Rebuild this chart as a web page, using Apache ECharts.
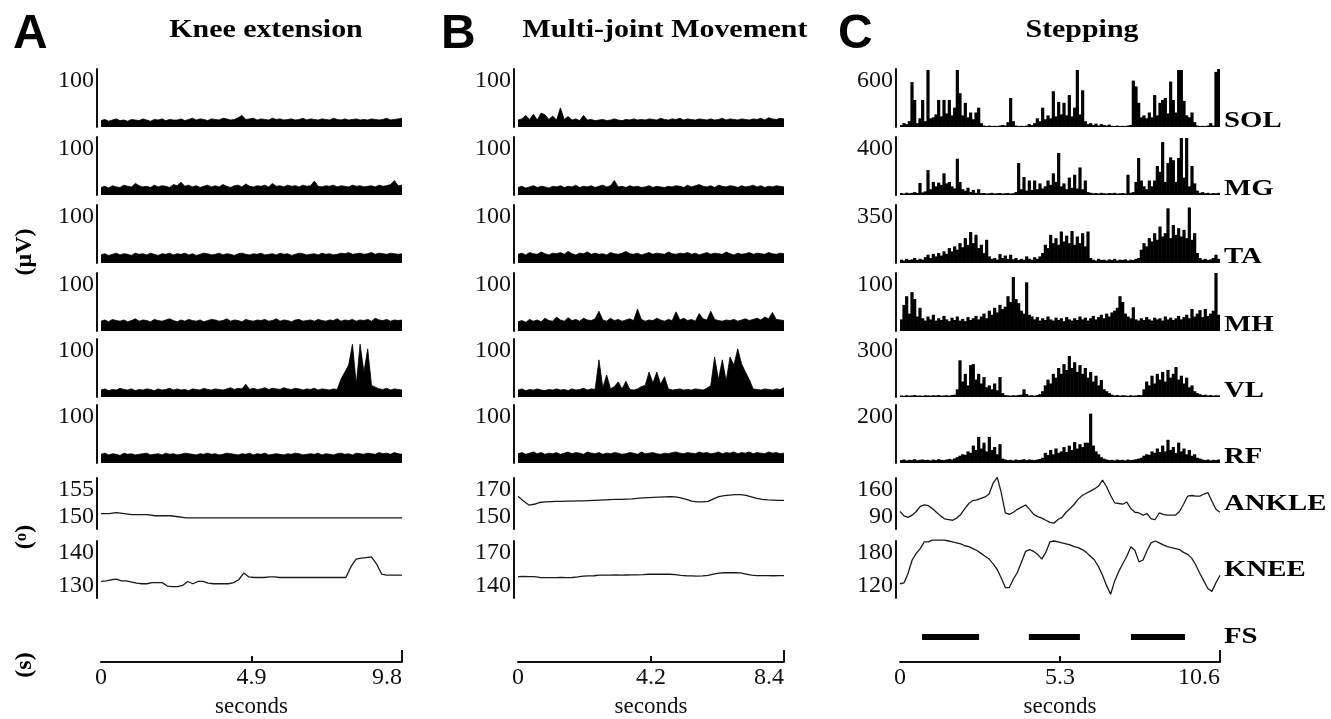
<!DOCTYPE html>
<html><head><meta charset="utf-8">
<script src="https://cdn.jsdelivr.net/npm/echarts@6/dist/echarts.min.js"></script>
<style>html,body{margin:0;padding:0;background:#fff}#c{width:1331px;height:719px}</style>
</head><body><div id="c"></div>
<script>
// ---------- labels / ticks ----------
const titles = ['Knee extension','Multi-joint Movement','Stepping'];
const panelLetters = ['A','B','C'];
const rowNames = ['SOL','MG','TA','MH','VL','RF','ANKLE','KNEE'];
const fsName = 'FS';
const kneeTopTicks = [100,100,100,100,100,100,155,140];
const kneeBottomTicks = [0,0,0,0,0,0,150,130];
const multiTopTicks = [100,100,100,100,100,100,170,170];
const multiBottomTicks = [0,0,0,0,0,0,150,140];
const stepTopTicks = [600,400,350,100,300,200,160,180];
const stepBottomTicks = [0,0,0,0,0,0,90,120];
const kneeTimeTicks = [0,4.9,9.8];
const multiTimeTicks = [0,4.2,8.4];
const stepTimeTicks = [0,5.3,10.6];
const fsBouts = [[0.73,2.62],[4.27,5.96],[7.65,9.44]];

// ---------- A: knee extension (EMG, µV) ----------
const kneeSOL = [11,13,10,12,14,11,12,10,13,12,11,14,12,10,13,12,14,11,13,12,12,14,11,13,15,12,14,13,11,14,13,12,15,14,12,13,16,20,13,14,15,12,14,13,12,15,13,14,12,13,14,12,13,15,12,14,13,12,14,13,12,15,13,12,14,12,13,14,12,13,12,14,13,12,13,15,12,13,14,15];
const kneeMG = [13,15,12,16,14,13,17,15,14,20,16,14,15,13,17,14,16,15,13,18,16,22,15,17,14,16,13,15,17,14,16,14,18,15,13,16,17,14,19,15,14,16,15,17,14,20,15,16,14,17,15,16,14,17,15,16,24,15,14,16,15,17,14,16,15,14,17,15,16,14,15,16,14,17,15,16,18,25,16,17];
const kneeTA = [14,16,13,15,17,14,16,15,13,17,15,16,14,17,15,13,16,15,17,14,16,15,17,14,16,13,15,17,16,14,15,17,14,16,15,13,16,17,15,14,16,15,17,14,15,16,14,17,15,16,13,15,17,16,14,15,16,14,17,15,16,14,15,17,16,18,15,16,17,15,16,18,15,17,16,15,17,16,15,16];
const kneeMH = [17,19,16,20,18,17,19,16,18,21,17,19,18,16,20,18,17,19,21,18,16,19,17,20,18,17,19,16,18,20,19,17,18,21,17,19,18,16,20,18,17,19,18,20,17,18,21,17,19,18,16,19,20,17,18,19,17,20,18,17,19,18,21,17,19,18,20,17,19,18,20,17,22,19,18,20,17,19,18,19];
const kneeVL = [12,14,11,13,12,15,13,12,14,11,13,12,14,13,11,14,12,13,15,12,14,12,13,11,14,13,12,15,13,12,14,13,12,14,16,13,15,14,22,13,15,13,14,16,13,15,14,13,16,14,13,15,14,12,14,13,15,12,14,13,12,14,13,31,43,55,91,22,91,43,83,20,17,14,13,15,12,14,13,12];
const kneeRF = [15,17,14,16,15,13,17,15,16,14,15,16,17,14,15,16,14,17,15,16,14,15,17,16,15,14,16,15,17,15,16,14,15,17,16,15,14,16,15,17,14,16,15,17,14,15,16,15,14,16,15,17,16,14,15,16,15,17,14,16,15,14,16,17,15,16,14,17,16,15,17,16,15,18,16,17,15,18,16,15];
// joint angles (deg)
const kneeANKLE = [151.5,151.5,151.6,151.5,151.4,151.4,151.4,151.3,151.3,151.3,151.2,151.1,151.1,151.1,151.1,151.1,151.1,151.1,151.1,151.1,151.1,151.1,151.1,151.1,151.1,151.1,151.1,151.1,151.1,151.1,151.1,151.1,151.1,151.1,151.1,151.1,151.1,151.1,151.1,151.1];
const kneeKNEE = [132.9,133.0,133.2,133.3,133.0,133.0,132.8,132.6,132.5,132.5,132.7,132.7,132.7,132.1,132.0,132.0,132.2,132.9,132.5,132.9,132.9,132.6,132.5,132.5,132.5,132.5,132.7,133.2,134.4,133.7,133.6,133.6,133.6,133.7,133.7,133.6,133.6,133.6,133.6,133.6,133.6,133.6,133.6,133.6,133.6,133.6,133.6,133.6,133.6,135.5,136.8,137.0,137.1,137.2,136.0,134.2,134.0,134.0,134.0,134.0];

// ---------- B: multi-joint movement ----------
const multiSOL = [12,14,20,13,22,12,24,21,13,19,12,33,13,18,12,14,11,20,12,13,11,12,13,11,12,14,12,11,13,12,14,12,13,12,14,13,12,15,13,12,14,13,15,12,14,13,12,14,13,12,14,12,13,15,12,14,13,12,14,13,12,14,13,15,12,16,14,13,15,14];
const multiMG = [13,15,12,14,16,13,15,14,12,15,14,16,13,15,14,17,13,15,14,16,13,15,17,14,16,25,14,15,13,16,14,15,13,14,16,13,15,14,13,15,14,16,15,13,17,14,16,18,15,14,16,13,17,15,14,16,15,13,16,14,15,17,14,16,13,15,14,16,15,14];
const multiTA = [15,17,14,18,16,15,19,16,14,17,16,18,15,20,16,14,17,16,19,15,17,15,16,14,18,16,15,17,20,16,15,17,14,16,18,15,17,16,15,19,16,15,17,16,18,15,17,14,16,18,15,17,16,15,19,16,14,17,15,16,18,15,17,16,15,18,16,15,17,16];
const multiMH = [16,18,15,20,17,19,16,22,18,17,24,19,17,23,18,20,17,22,19,18,21,34,19,17,22,18,20,17,19,21,18,38,20,17,19,18,22,19,17,20,18,33,19,22,18,20,17,30,21,19,34,20,18,17,19,18,20,17,19,21,18,20,22,19,24,21,32,20,19,18];
const multiVL = [12,14,11,13,12,14,12,11,13,12,14,12,13,11,14,12,13,15,12,14,13,64,16,38,14,18,26,14,27,13,12,14,18,20,43,24,43,22,35,14,12,13,14,12,13,12,14,13,12,15,20,69,30,64,28,69,55,83,57,43,30,14,13,12,14,13,12,14,13,16];
const multiRF = [16,18,15,17,19,16,18,15,17,16,18,15,17,19,16,18,17,15,19,17,16,18,15,17,16,18,17,15,16,18,17,15,19,16,17,18,16,15,17,16,18,19,17,16,18,17,16,19,17,18,16,17,19,16,18,17,19,16,18,17,19,16,18,17,16,19,17,18,16,17];
const multiANKLE = [162.8,161.0,159.4,159.7,160.4,160.6,160.7,160.8,160.8,160.9,160.9,161.0,161.0,161.1,161.2,161.3,161.4,161.5,161.6,161.6,161.7,161.8,162.0,162.2,162.3,162.4,162.5,162.6,162.7,162.6,162.2,161.6,160.9,160.6,160.6,160.8,161.8,162.7,163.1,163.3,163.5,163.5,163.2,162.6,162.0,161.6,161.4,161.3,161.2,161.2];
const multiKNEE = [151.3,151.4,151.2,151.3,150.8,150.7,150.7,150.7,150.8,150.7,150.8,151.1,151.5,151.6,151.7,152.0,152.0,152.0,152.1,152.0,152.1,152.2,152.2,152.3,152.5,152.5,152.6,152.5,152.5,152.3,151.9,151.7,151.6,151.5,151.6,151.9,152.6,153.1,153.3,153.4,153.3,153.2,152.6,152.0,151.8,151.8,151.8,151.7,151.8,151.8];

// ---------- C: stepping ----------
const stepSOL = [20,40,30,60,465,280,40,90,280,60,590,90,100,130,280,110,280,140,280,120,200,590,350,120,250,100,150,80,150,200,40,15,10,15,10,12,10,15,20,15,50,300,60,15,10,12,10,15,30,20,40,90,60,200,80,120,90,370,110,260,130,250,120,330,110,200,590,130,380,60,30,40,20,35,15,30,20,15,25,12,10,15,10,12,10,15,20,480,420,250,100,120,90,150,100,330,120,250,280,300,140,470,280,150,590,590,270,120,100,150,50,15,10,12,10,15,40,15,570,600];
const stepMG = [14,10,16,12,15,20,14,83,18,25,172,40,90,60,85,70,150,80,90,60,45,250,90,40,30,50,20,35,15,40,12,14,10,12,15,10,12,14,10,12,14,10,12,20,220,40,124,30,100,35,100,40,80,45,60,100,70,150,90,290,60,80,40,120,50,140,45,190,40,100,20,15,12,14,10,15,12,10,14,12,15,10,12,14,10,140,15,20,90,255,100,60,40,100,60,100,200,160,365,90,220,260,240,90,255,393,120,393,60,200,80,30,15,20,12,15,10,14,12,15];
const stepTA = [20,15,25,18,22,30,18,25,20,35,50,30,55,40,60,45,70,55,90,70,100,80,120,95,150,110,187,120,170,90,110,60,140,40,25,30,20,54,30,45,25,50,22,30,18,25,20,40,25,20,35,25,40,60,110,90,170,120,150,110,190,130,165,120,193,110,160,120,180,100,190,30,20,15,25,18,20,15,22,18,25,15,20,18,22,15,20,18,25,30,80,120,100,150,130,180,140,220,160,180,330,150,230,170,210,160,200,150,335,140,180,60,30,20,25,18,22,30,50,25];
const stepMH = [20,45,60,30,67,55,25,40,22,18,25,20,28,18,22,19,26,20,17,23,19,25,18,21,17,24,19,22,26,20,25,30,22,35,28,40,32,45,38,42,60,50,93,55,48,35,30,84,28,25,20,24,18,22,19,25,20,18,23,19,22,17,24,20,18,22,19,25,20,23,18,22,26,20,24,28,22,30,25,32,35,40,60,50,30,25,22,41,20,18,22,19,24,20,18,23,20,22,18,25,20,23,19,22,26,20,24,28,22,38,25,30,36,24,38,26,30,35,100,28];
const stepVL = [8,6,9,7,8,10,7,8,6,9,8,7,9,8,10,7,8,9,7,10,12,40,190,80,120,60,165,170,90,120,70,103,50,60,40,70,35,103,20,10,8,7,9,8,10,12,40,15,8,9,7,10,15,30,60,90,70,120,100,150,120,170,140,212,150,180,130,165,120,150,100,130,80,110,60,88,40,30,20,12,8,10,7,9,8,6,9,7,8,10,9,40,80,60,110,70,120,90,130,80,140,100,120,155,90,110,70,100,50,60,30,20,15,10,12,8,10,7,9,8];
const stepRF = [10,12,9,11,10,13,9,11,12,10,11,9,12,10,13,11,10,12,14,12,16,20,25,30,28,40,35,60,45,90,50,70,40,90,45,55,30,65,15,12,10,11,9,12,10,11,13,10,12,11,10,12,14,18,35,28,45,30,50,35,40,55,38,60,45,72,50,65,55,70,70,170,60,40,30,20,15,12,10,11,9,12,10,11,9,12,10,11,13,15,18,25,30,28,40,35,50,38,60,40,80,45,55,35,70,40,50,30,45,25,30,18,15,12,10,12,9,11,10,12];
const stepANKLE = [114,108,106,109,114,121,123,122,118,113,108,104,103,102,105,110,118,125,129,130,132,134,138,153,161,140,112,110,113,117,120,123,117,110,107,105,102,99,98,103,106,113,118,124,131,136,139,142,145,149,157,148,136,126,125,124,127,118,113,112,109,111,104,103,112,110,109,109,109,114,124,135,136,135,135,138,140,128,117,113];
const stepKNEE = [135,136,146,160,167,172,179,179,181,181,181,181,180,179,178,177,175,174,172,170,167,164,161,156,150,141,131,131,140,147,158,169,171,169,166,161,168,179,180,179,178,177,176,174,173,171,168,164,160,153,144,133,124,138,148,156,164,174,170,158,160,170,178,180,178,176,174,173,172,171,168,166,162,155,146,138,130,127,136,144];

// ---------- layout ----------
const SERIF = "'Liberation Serif','Times New Roman',serif";
const SANS = "'Liberation Sans',Arial,sans-serif";
const INK = '#111';
const colBox = [
  {left:101, width:301, letterX:13, titleX:266, emgType:'line'},
  {left:518, width:266, letterX:441, titleX:665, emgType:'line'},
  {left:900, width:320, letterX:838, titleX:1082, emgType:'bar'}
];
const rowBottoms = [127,195,263,331,397,463,529,598];
const rowHeights = [58,58,58,58,58,58,51,57];
const timeAxisY = 666;

const columns = [
  {data:[kneeSOL,kneeMG,kneeTA,kneeMH,kneeVL,kneeRF,kneeANKLE,kneeKNEE], top:kneeTopTicks, bottom:kneeBottomTicks, time:kneeTimeTicks},
  {data:[multiSOL,multiMG,multiTA,multiMH,multiVL,multiRF,multiANKLE,multiKNEE], top:multiTopTicks, bottom:multiBottomTicks, time:multiTimeTicks},
  {data:[stepSOL,stepMG,stepTA,stepMH,stepVL,stepRF,stepANKLE,stepKNEE], top:stepTopTicks, bottom:stepBottomTicks, time:stepTimeTicks}
];

const grid = [], xAxis = [], yAxis = [], series = [], graphic = [];
const labelStyle = {color:INK, fontFamily:SERIF, fontSize:24};

columns.forEach((col, ci) => {
  const box = colBox[ci];
  col.data.forEach((arr, ri) => {
    const g = grid.length;
    grid.push({left:box.left, top:rowBottoms[ri]-rowHeights[ri], width:box.width, height:rowHeights[ri]});
    const isAngle = ri >= 6;
    const asBar = !isAngle && box.emgType === 'bar';
    const xi = xAxis.length;
    xAxis.push({gridIndex:g, type:'category', show:false, boundaryGap:asBar, data:arr.map((_, i) => i)});
    const yi = yAxis.length;
    const lo = col.bottom[ri], hi = col.top[ri];
    yAxis.push({gridIndex:g, type:'value', position:'left', min:lo, max:hi, interval:hi-lo, offset:4,
      axisLine:{show:true, onZero:false, lineStyle:{color:INK, width:2}},
      axisTick:{show:false}, splitLine:{show:false},
      axisLabel:Object.assign({showMinLabel:false, showMaxLabel:true, verticalAlign:'top', margin:3}, labelStyle)});
    if (isAngle) {
      yAxis.push({gridIndex:g, type:'value', position:'left', min:lo, max:hi, interval:hi-lo, offset:4,
        axisLine:{show:false}, axisTick:{show:false}, splitLine:{show:false},
        axisLabel:Object.assign({showMinLabel:true, showMaxLabel:false, verticalAlign:'bottom', margin:3}, labelStyle)});
      series.push({type:'line', xAxisIndex:xi, yAxisIndex:yi, data:arr, symbol:'none', clip:false,
        lineStyle:{color:'#1a1a1a', width:1.3}, silent:true});
    } else if (asBar) {
      series.push({type:'bar', xAxisIndex:xi, yAxisIndex:yi, data:arr, barWidth:3.2,
        itemStyle:{color:'#000', borderWidth:0}, silent:true});
    } else {
      series.push({type:'line', xAxisIndex:xi, yAxisIndex:yi, data:arr, symbol:'none',
        lineStyle:{color:'#000', width:0.8}, areaStyle:{color:'#000', opacity:1}, silent:true});
    }
  });
  // time axis
  const t = col.time;
  const g = grid.length;
  grid.push({left:box.left, top:timeAxisY-26, width:box.width, height:26});
  const xi = xAxis.length;
  xAxis.push({gridIndex:g, type:'value', min:t[0], max:t[2], interval:t[1]-t[0], position:'bottom',
    axisLine:{show:true, onZero:false, lineStyle:{color:INK, width:2}},
    axisTick:{show:true, inside:true, length:6, customValues:[t[1]], lineStyle:{color:INK, width:2}},
    splitLine:{show:false},
    axisLabel:Object.assign({margin:4, alignMaxLabel:'right',
      formatter:v => { const m = t.find(x => Math.abs(x - v) < 1e-6); return m === undefined ? '' : String(m); }}, labelStyle),
    name:'seconds', nameLocation:'middle', nameGap:33,
    nameTextStyle:{color:INK, fontFamily:SERIF, fontSize:23}});
  xAxis.push({gridIndex:g, type:'value', min:t[0], max:t[2], interval:t[1]-t[0], position:'bottom',
    axisLine:{show:false}, axisLabel:{show:false}, splitLine:{show:false},
    axisTick:{show:true, inside:true, length:12, customValues:[t[2]], lineStyle:{color:INK, width:2}}});
  const yi = yAxis.length;
  yAxis.push({gridIndex:g, type:'value', show:false, min:0, max:1});
  series.push({type:'line', xAxisIndex:xi, yAxisIndex:yi, data:[]});

  // letters and titles
  graphic.push({type:'text', x:box.letterX, y:35, silent:true,
    style:{text:panelLetters[ci], font:'bold 48px ' + SANS, fill:'#000', align:'left', textAlign:'left', verticalAlign:'middle', textVerticalAlign:'middle'}});
  graphic.push({type:'text', x:box.titleX, y:30, scaleX:1.15, silent:true,
    style:{text:titles[ci], font:'bold 26px ' + SERIF, fill:'#000', align:'center', textAlign:'center', verticalAlign:'middle', textVerticalAlign:'middle'}});
});

// foot-switch (FS) bouts in stepping column
{
  const box = colBox[2];
  const g = grid.length;
  grid.push({left:box.left, top:630, width:box.width, height:14});
  const xi = xAxis.length;
  xAxis.push({gridIndex:g, type:'value', show:false, min:stepTimeTicks[0], max:stepTimeTicks[2]});
  const yi = yAxis.length;
  yAxis.push({gridIndex:g, type:'value', show:false, min:0, max:2});
  fsBouts.forEach(b => series.push({type:'line', xAxisIndex:xi, yAxisIndex:yi, symbol:'none',
    data:[[b[0],1],[b[1],1]], lineStyle:{color:'#000', width:6, cap:'butt'}, silent:true}));
}

// row names on the right of the stepping column
rowNames.forEach((name, ri) => {
  const y = ri < 6 ? rowBottoms[ri] - 6 : rowBottoms[ri] - rowHeights[ri] / 2;
  graphic.push({type:'text', x:1224, y:y, scaleX:1.2, silent:true,
    style:{text:name, font:'bold 24px ' + SERIF, fill:'#000', align:'left', textAlign:'left', verticalAlign:'middle', textVerticalAlign:'middle'}});
});
graphic.push({type:'text', x:1224, y:637, scaleX:1.2, silent:true,
  style:{text:fsName, font:'bold 24px ' + SERIF, fill:'#000', align:'left', textAlign:'left', verticalAlign:'middle', textVerticalAlign:'middle'}});

// unit labels on the left
const unitLabels = [
  {text:'(μV)', y:252},
  {text:'({o|o})', y:537},
  {text:'(s)', y:665}
];
unitLabels.forEach(u => graphic.push({type:'text', x:25, y:u.y, rotation:Math.PI/2, silent:true,
  style:{text:u.text, font:'bold 24px ' + SERIF, fill:'#000', align:'center', textAlign:'center', verticalAlign:'middle', textVerticalAlign:'middle',
    rich:{o:{fontSize:17, fontWeight:'bold', fontFamily:SERIF, fill:'#000', verticalAlign:'top', padding:[0,0,6,0]}}}}));

const chart = echarts.init(document.getElementById('c'), null, {renderer:'canvas'});
chart.setOption({animation:false, backgroundColor:'#fff', grid, xAxis, yAxis, series, graphic});
</script>
</body></html>
